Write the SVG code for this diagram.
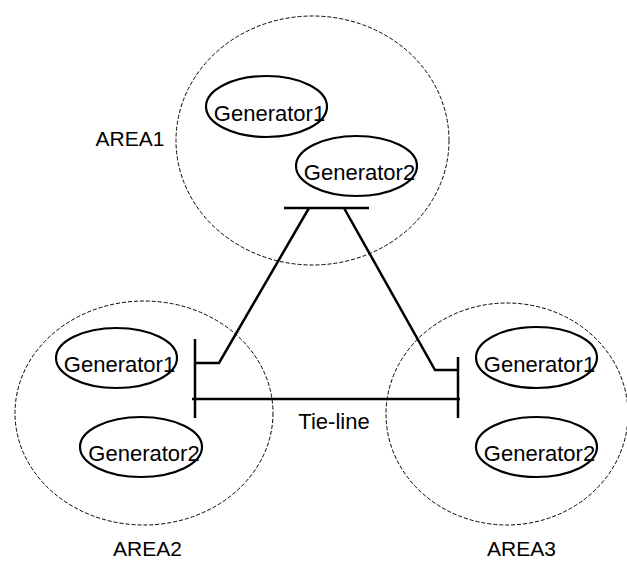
<svg xmlns="http://www.w3.org/2000/svg" width="627" height="561" viewBox="0 0 627 561">
<style>
.area{fill:none;stroke:#000;stroke-width:1;stroke-dasharray:4 2}
.gen{fill:none;stroke:#000;stroke-width:2.2}
.t{font-family:"Liberation Sans",Arial,sans-serif;fill:#000}
.gt{font-size:22px;text-anchor:middle}
.at{font-size:21px;text-anchor:middle}
.bus{fill:none;stroke:#000;stroke-width:2.5}
</style>
<rect width="627" height="561" fill="#fff"/>
<g id="area1">
<ellipse class="area" cx="312.5" cy="140.5" rx="136.5" ry="124.5"/>
<text class="t at" x="130" y="146">AREA1</text>
</g>
<g id="area2">
<ellipse class="area" cx="144" cy="413" rx="129" ry="112"/>
<text class="t at" x="147.5" y="556">AREA2</text>
</g>
<g id="area3">
<ellipse class="area" cx="507" cy="414" rx="121" ry="111"/>
<text class="t at" x="521.5" y="556">AREA3</text>
</g>
<g id="a1g1"><ellipse class="gen" cx="266.5" cy="106.5" rx="60.5" ry="30.5"/><text class="t gt" x="269.5" y="121">Generator1</text></g>
<g id="a1g2"><ellipse class="gen" cx="356.5" cy="166" rx="60.5" ry="30"/><text class="t gt" x="359.5" y="180">Generator2</text></g>
<g id="a2g1"><ellipse class="gen" cx="116.5" cy="358" rx="60.5" ry="30"/><text class="t gt" x="119.5" y="372">Generator1</text></g>
<g id="a2g2"><ellipse class="gen" cx="141" cy="447" rx="61" ry="30"/><text class="t gt" x="144" y="461">Generator2</text></g>
<g id="a3g1"><ellipse class="gen" cx="536.5" cy="357.5" rx="60.5" ry="30.5"/><text class="t gt" x="539.5" y="372">Generator1</text></g>
<g id="a3g2"><ellipse class="gen" cx="536.5" cy="447" rx="60.5" ry="30"/><text class="t gt" x="539.5" y="461">Generator2</text></g>
<g id="connectors">
<line class="bus" x1="284" y1="208" x2="369" y2="208"/>
<polyline class="bus" points="309,208 219,363 195,363"/>
<polyline class="bus" points="344,208 435,370 458,370"/>
<line class="bus" x1="195" y1="339" x2="195" y2="418"/>
<line class="bus" x1="458" y1="357" x2="458" y2="418"/>
<line class="bus" x1="192" y1="399" x2="460" y2="399"/>
<text class="t" x="334" y="429" font-size="22" text-anchor="middle">Tie-line</text>
</g>
</svg>
